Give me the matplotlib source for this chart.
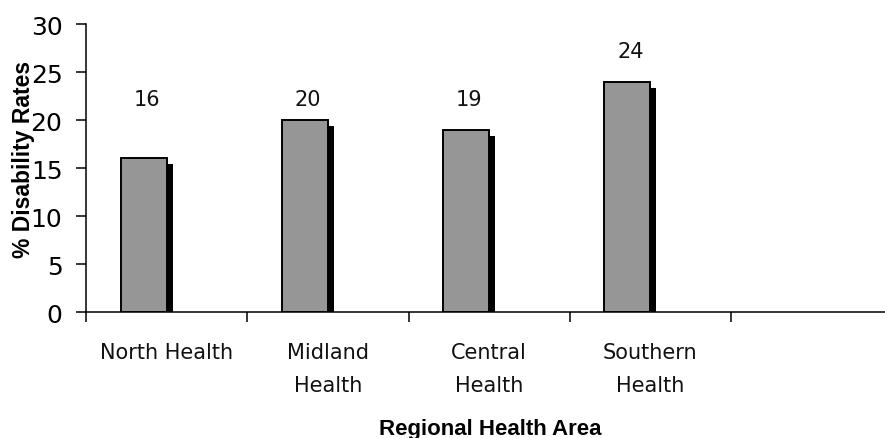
import matplotlib
matplotlib.use('Agg')
import matplotlib.pyplot as plt
import numpy as np

# disability rate per regional health area
regions = ['North Health', 'Midland\nHealth', 'Central\nHealth', 'Southern\nHealth']
rates = [16, 20, 19, 24]
n_slots = 5  # one empty slot on the right
y_ticks = [0, 5, 10, 15, 20, 25, 30]

plt.rcParams['font.family'] = ['DejaVu Sans']

fig = plt.figure(figsize=(8.85, 4.39), dpi=100)
ax = fig.add_axes([0.0972, 0.287, 0.911, 0.656])

bar_w = 0.285
x_left = np.arange(len(rates)) + 0.5 - bar_w
values = np.array(rates, dtype=float)

# black drop shadow, shifted right and down
dx, dy = 0.037, 0.625
ax.bar(x_left + dx, values - dy, width=bar_w, align='edge',
       color='black', linewidth=0, zorder=2)
ax.bar(x_left, values, width=bar_w, align='edge', color='#969696',
       edgecolor='black', linewidth=1.4, zorder=3)

# value labels sit on a common row unless the bar is too tall
for x, v in zip(x_left, values):
    ly = 22.2 if v + 1 < 22.2 else v + 3.2
    ax.text(x + bar_w / 2 + 0.02, ly, '%d' % v, ha='center', va='center',
            fontsize=15, color='#111111')

ax.set_xlim(0, n_slots)
ax.set_ylim(0, 30)
ax.set_yticks(y_ticks)
ax.tick_params(axis='y', labelsize=18, length=7, width=1.1, direction='out', pad=10)
ax.set_xticks(np.arange(n_slots + 1))
ax.set_xticklabels([])
ax.tick_params(axis='x', length=7, width=1.1, direction='out')
for i, name in enumerate(regions):
    ax.text(i + 0.5, -3.1, name, ha='center', va='top', fontsize=15,
            linespacing=1.8, color='#111111')

for side in ['top', 'right']:
    ax.spines[side].set_visible(False)
for side in ['left', 'bottom']:
    ax.spines[side].set_linewidth(1.1)

fig.text(0.554, 0.021, 'Regional Health Area', ha='center', va='center',
         fontsize=16, fontweight='bold', family='Liberation Sans')
fig.text(0.026, 0.636, '% Disability Rates', ha='center', va='center',
         rotation=90, fontsize=16.5, fontweight='bold', family='Liberation Sans')

fig.savefig('out.png', dpi=100)
